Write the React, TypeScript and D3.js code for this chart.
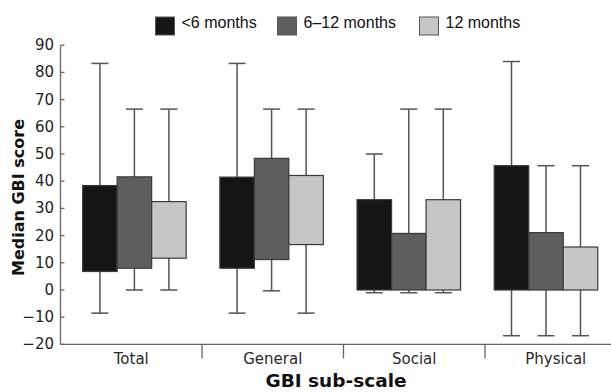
import React from "react";
import * as d3 from "d3";

const categories = ["Total", "General", "Social", "Physical"];
const seriesNames = ["<6 months", "6–12 months", "12 months"];
const seriesColors = ["#151515", "#5e5e5e", "#c6c6c6"];

// box upper value, box lower value, whisker top, whisker bottom (per category)
const lt6Top = [38.4, 41.5, 33.2, 45.7];
const lt6Bottom = [6.8, 8.0, 0, 0];
const lt6WhiskerTop = [83.3, 83.3, 50, 84];
const lt6WhiskerBottom = [-8.5, -8.5, -1, -16.8];

const m612Top = [41.6, 48.4, 20.8, 21.1];
const m612Bottom = [8.0, 11.2, 0, 0];
const m612WhiskerTop = [66.5, 66.5, 66.5, 45.7];
const m612WhiskerBottom = [0, -0.3, -1, -16.8];

const m12Top = [32.5, 42.1, 33.2, 15.8];
const m12Bottom = [11.7, 16.7, 0, 0];
const m12WhiskerTop = [66.5, 66.5, 66.5, 45.7];
const m12WhiskerBottom = [0, -8.5, -1, -16.8];

const yTicks = [-20, -10, 0, 10, 20, 30, 40, 50, 60, 70, 80, 90];

const seriesData = [
  { top: lt6Top, bottom: lt6Bottom, wt: lt6WhiskerTop, wb: lt6WhiskerBottom },
  { top: m612Top, bottom: m612Bottom, wt: m612WhiskerTop, wb: m612WhiskerBottom },
  { top: m12Top, bottom: m12Bottom, wt: m12WhiskerTop, wb: m12WhiskerBottom },
];

const W = 611;
const H = 392;
const axisX = 60.5;

export default function App() {
  const y = d3.scaleLinear().domain([-20, 90]).range([344.4, 45.2]);
  const axisBand = d3.scaleBand<string>().domain(categories).range([axisX, 626.5]);
  const barBand = d3.scaleBand<string>().domain(categories).range([65.8, 614.6]);
  const inner = d3.scaleBand<string>().domain(seriesNames).range([-51.75, 51.75]);
  const bw = inner.bandwidth();
  const capHalf = 8.5;
  const tickFont = "'DejaVu Sans', Verdana, sans-serif";
  const legendFont = "'Liberation Sans', Arial, sans-serif";

  return (
    <svg width={W} height={H} style={{ position: "absolute", left: 0, top: 0, background: "#fff" }}>
      {/* legend */}
      {seriesNames.map((s, i) => {
        const lx = [155.5, 277.5, 419.5][i];
        return (
          <g key={s}>
            <rect x={lx} y={17} width={19} height={18} fill={seriesColors[i]} stroke="#555" strokeWidth={1} />
            <text x={lx + 26} y={28} fontFamily={legendFont} fontSize={16} fill="#111">
              {s}
            </text>
          </g>
        );
      })}

      {/* boxes and whiskers */}
      {categories.map((c, ci) => (
        <g key={c}>
          {seriesData.map((sd, si) => {
            const x0 = (barBand(c) as number) + barBand.bandwidth() / 2 + (inner(seriesNames[si]) as number);
            const cx = x0 + bw / 2;
            return (
              <g key={si}>
                <line x1={cx} x2={cx} y1={y(sd.wt[ci])} y2={y(sd.wb[ci])} stroke="#555" strokeWidth={1.5} />
                <line x1={cx - capHalf} x2={cx + capHalf} y1={y(sd.wt[ci])} y2={y(sd.wt[ci])} stroke="#555" strokeWidth={1.5} />
                <line x1={cx - capHalf} x2={cx + capHalf} y1={y(sd.wb[ci])} y2={y(sd.wb[ci])} stroke="#555" strokeWidth={1.5} />
              </g>
            );
          })}
          {seriesData.map((sd, si) => {
            const x0 = (barBand(c) as number) + barBand.bandwidth() / 2 + (inner(seriesNames[si]) as number);
            return (
              <rect
                key={"b" + si}
                x={x0}
                y={y(sd.top[ci])}
                width={bw}
                height={y(sd.bottom[ci]) - y(sd.top[ci])}
                fill={seriesColors[si]}
                stroke="#3a3a3a"
                strokeWidth={1.2}
              />
            );
          })}
        </g>
      ))}

      {/* y axis */}
      <line x1={axisX} x2={axisX} y1={y(90)} y2={y(-20)} stroke="#666" strokeWidth={1.3} />
      {yTicks.map((t) => (
        <g key={t}>
          <line x1={axisX} x2={axisX + 4} y1={y(t)} y2={y(t)} stroke="#666" strokeWidth={1.3} />
          <text
            x={54}
            y={y(t)}
            textAnchor="end"
            dominantBaseline="central"
            fontFamily={tickFont}
            fontSize={15}
            fill="#1e1e1e"
          >
            {t < 0 ? "−" + Math.abs(t) : String(t)}
          </text>
        </g>
      ))}

      {/* x axis */}
      <line x1={axisX} x2={W} y1={y(-20)} y2={y(-20)} stroke="#666" strokeWidth={1.3} />
      {categories.slice(1).map((c) => (
        <line
          key={c}
          x1={axisBand(c) as number}
          x2={axisBand(c) as number}
          y1={y(-20)}
          y2={y(-20) + 14}
          stroke="#666"
          strokeWidth={1.3}
        />
      ))}
      {categories.map((c) => (
        <text
          key={c}
          x={(axisBand(c) as number) + axisBand.bandwidth() / 2}
          y={364}
          textAnchor="middle"
          fontFamily={tickFont}
          fontSize={15}
          fill="#2a2a2a"
        >
          {c}
        </text>
      ))}

      {/* axis titles */}
      <text
        transform={`translate(24, 197.5) rotate(-90)`}
        textAnchor="middle"
        fontFamily={tickFont}
        fontWeight="bold"
        fontSize={16}
        fill="#111"
      >
        Median GBI score
      </text>
      <text x={336} y={387} textAnchor="middle" fontFamily={tickFont} fontWeight="bold" fontSize={18.5} fill="#111">
        GBI sub-scale
      </text>
    </svg>
  );
}
